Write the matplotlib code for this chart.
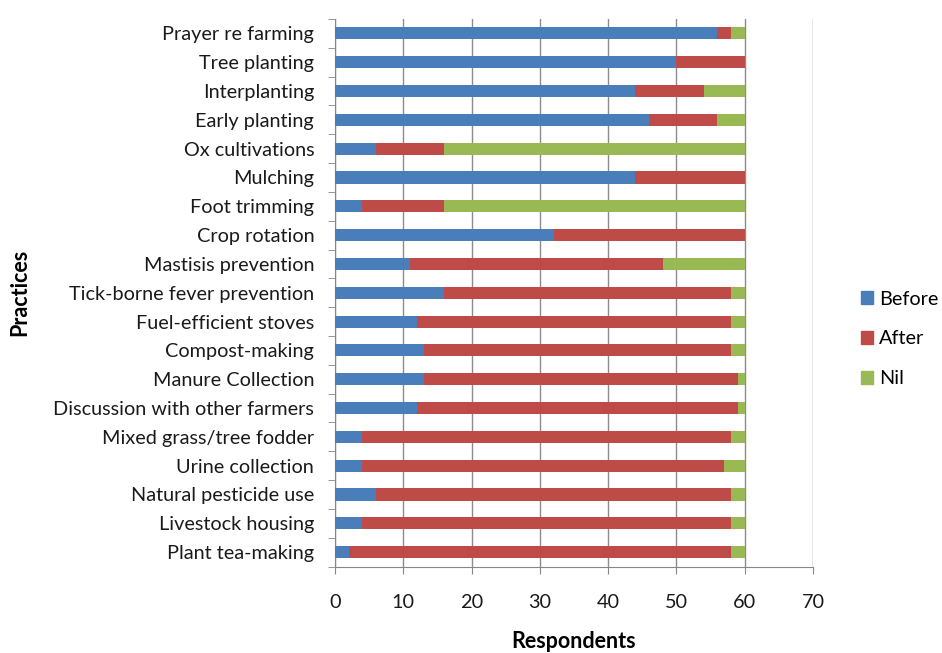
import matplotlib
matplotlib.use("Agg")
import matplotlib.pyplot as plt
from matplotlib.patches import Patch
import numpy as np

practices = ["Prayer re farming", "Tree planting", "Interplanting", "Early planting",
             "Ox cultivations", "Mulching", "Foot trimming", "Crop rotation",
             "Mastisis prevention", "Tick-borne fever prevention", "Fuel-efficient stoves",
             "Compost-making", "Manure Collection", "Discussion with other farmers",
             "Mixed grass/tree fodder", "Urine collection", "Natural pesticide use",
             "Livestock housing", "Plant tea-making"]
before = [56, 50, 44, 46, 6, 44, 4, 32, 11, 16, 12, 13, 13, 12, 4, 4, 6, 4, 2]
after = [2, 10, 10, 10, 10, 16, 12, 28, 37, 42, 46, 45, 46, 47, 54, 53, 52, 54, 56]
nil = [2, 0, 6, 4, 44, 0, 44, 0, 12, 2, 2, 2, 1, 1, 2, 3, 2, 2, 2]
xticks = [0, 10, 20, 30, 40, 50, 60, 70]

font = ["Lato", "DejaVu Sans"]
plt.rcParams["font.family"] = font

fig = plt.figure(figsize=(9.42, 6.53), dpi=100)
top_px, bot_px = 19, 566.5
ax = fig.add_axes([335/942, 1 - bot_px/653, (813-335)/942, (bot_px-top_px)/653])

n = len(practices)
y = np.arange(n)
b = np.array(before); a = np.array(after); nl = np.array(nil)
h = 0.42
ax.barh(y, b, height=h, color="#4A7EBB", label="Before", zorder=3)
ax.barh(y, a, left=b, height=h, color="#BE4B48", label="After", zorder=3)
ax.barh(y, nl, left=b + a, height=h, color="#98B954", label="Nil", zorder=3)

ax.set_ylim(n - 0.5, -0.5)
ax.set_xlim(0, 70)
ax.set_yticks(y)
ax.set_yticklabels(practices, fontsize=14.3, color="#1a1a1a")
ax.set_yticks(np.arange(-0.5, n, 1), minor=True)
ax.tick_params(axis="y", which="major", length=0, pad=15)
ax.tick_params(axis="y", which="minor", length=5, color="#868686")
ax.set_xticks(xticks)
ax.set_xticklabels([str(t) for t in xticks], fontsize=14.3, color="#1a1a1a")
ax.tick_params(axis="x", length=5, color="#868686", pad=15)

ax.grid(axis="x", color="#8c8c8c", linewidth=1, zorder=0)
for s in ["top", "right"]:
    ax.spines[s].set_visible(False)
for s in ["left", "bottom"]:
    ax.spines[s].set_color("#868686")

ax.set_xlabel("Respondents", fontsize=15.5, fontweight="bold")
ax.xaxis.set_label_coords(0.5, -(641 - bot_px) / (bot_px - top_px), transform=ax.transAxes)
ax.xaxis.label.set_va("center")
ax.set_ylabel("Practices", fontsize=15.5, fontweight="bold")
ax.yaxis.set_label_coords(-(335 - 20) / (813 - 335), 0.5)
ax.yaxis.label.set_va("center")

handles = [Patch(color="#4A7EBB", label="Before"),
           Patch(color="#BE4B48", label="After"),
           Patch(color="#98B954", label="Nil")]
fig.legend(handles=handles, loc="center left", bbox_to_anchor=(853/942, 1 - 339/653),
           frameon=False, fontsize=14.3, handlelength=0.6, handleheight=0.6,
           labelspacing=1.15, handletextpad=0.3, borderaxespad=0)

fig.savefig("out.png", dpi=100)
